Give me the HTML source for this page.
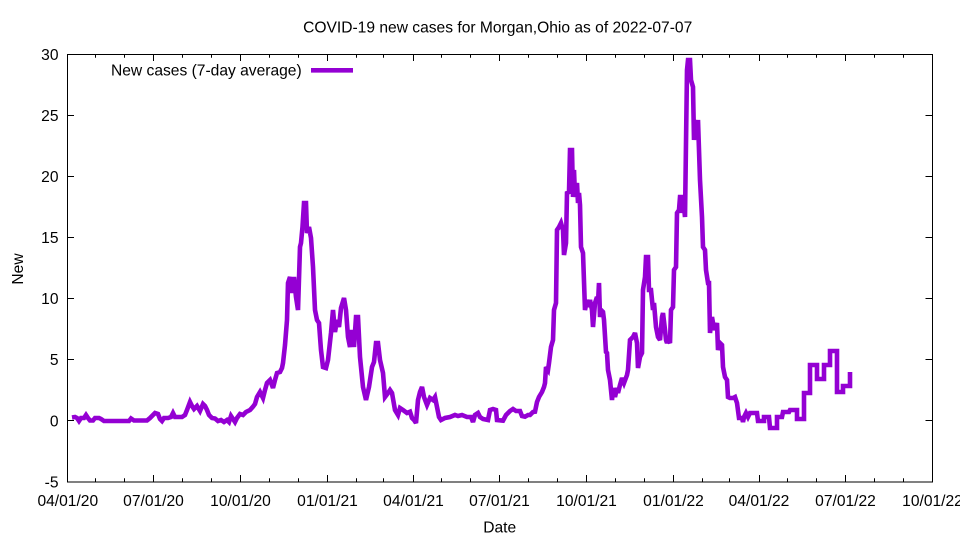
<!DOCTYPE html>
<html>
<head>
<meta charset="utf-8">
<style>
html,body{margin:0;padding:0;background:#fff;}
svg{display:block;}
text{font-family:"Liberation Sans",Arial,sans-serif;fill:#000;}
</style>
</head>
<body>
<svg width="960" height="540" viewBox="0 0 960 540" xmlns="http://www.w3.org/2000/svg">
<rect x="0" y="0" width="960" height="540" fill="#fff"/>

<!-- title -->
<text x="497.7" y="32.7" font-size="15.6" text-anchor="middle">COVID-19 new cases for Morgan,Ohio as of 2022-07-07</text>

<!-- y ticks (left & right) -->
<g stroke="#000" stroke-width="1">
<line x1="67" y1="54.5" x2="74" y2="54.5"/>
<line x1="67" y1="115.5" x2="74" y2="115.5"/>
<line x1="67" y1="176.5" x2="74" y2="176.5"/>
<line x1="67" y1="237.5" x2="74" y2="237.5"/>
<line x1="67" y1="298.5" x2="74" y2="298.5"/>
<line x1="67" y1="359.5" x2="74" y2="359.5"/>
<line x1="67" y1="420.5" x2="74" y2="420.5"/>
<line x1="932.5" y1="54.5" x2="925.5" y2="54.5"/>
<line x1="932.5" y1="115.5" x2="925.5" y2="115.5"/>
<line x1="932.5" y1="176.5" x2="925.5" y2="176.5"/>
<line x1="932.5" y1="237.5" x2="925.5" y2="237.5"/>
<line x1="932.5" y1="298.5" x2="925.5" y2="298.5"/>
<line x1="932.5" y1="359.5" x2="925.5" y2="359.5"/>
<line x1="932.5" y1="420.5" x2="925.5" y2="420.5"/>
</g>

<!-- x ticks: major (bottom & top) -->
<g stroke="#000" stroke-width="1">
<line x1="67.5" y1="482" x2="67.5" y2="475"/>
<line x1="153.5" y1="482" x2="153.5" y2="475"/>
<line x1="240.5" y1="482" x2="240.5" y2="475"/>
<line x1="327.5" y1="482" x2="327.5" y2="475"/>
<line x1="413.5" y1="482" x2="413.5" y2="475"/>
<line x1="499.5" y1="482" x2="499.5" y2="475"/>
<line x1="586.5" y1="482" x2="586.5" y2="475"/>
<line x1="673.5" y1="482" x2="673.5" y2="475"/>
<line x1="759.5" y1="482" x2="759.5" y2="475"/>
<line x1="845.5" y1="482" x2="845.5" y2="475"/>
<line x1="153.5" y1="54" x2="153.5" y2="61"/>
<line x1="240.5" y1="54" x2="240.5" y2="61"/>
<line x1="327.5" y1="54" x2="327.5" y2="61"/>
<line x1="413.5" y1="54" x2="413.5" y2="61"/>
<line x1="499.5" y1="54" x2="499.5" y2="61"/>
<line x1="586.5" y1="54" x2="586.5" y2="61"/>
<line x1="673.5" y1="54" x2="673.5" y2="61"/>
<line x1="759.5" y1="54" x2="759.5" y2="61"/>
<line x1="845.5" y1="54" x2="845.5" y2="61"/>
</g>
<!-- x minor ticks -->
<g stroke="#000" stroke-width="1">
<line x1="95.5" y1="482" x2="95.5" y2="478.3"/><line x1="95.5" y1="54" x2="95.5" y2="57.7"/>
<line x1="124.5" y1="482" x2="124.5" y2="478.3"/><line x1="124.5" y1="54" x2="124.5" y2="57.7"/>
<line x1="182.5" y1="482" x2="182.5" y2="478.3"/><line x1="182.5" y1="54" x2="182.5" y2="57.7"/>
<line x1="211.5" y1="482" x2="211.5" y2="478.3"/><line x1="211.5" y1="54" x2="211.5" y2="57.7"/>
<line x1="269.5" y1="482" x2="269.5" y2="478.3"/><line x1="269.5" y1="54" x2="269.5" y2="57.7"/>
<line x1="298.5" y1="482" x2="298.5" y2="478.3"/><line x1="298.5" y1="54" x2="298.5" y2="57.7"/>
<line x1="356.5" y1="482" x2="356.5" y2="478.3"/><line x1="356.5" y1="54" x2="356.5" y2="57.7"/>
<line x1="383.5" y1="482" x2="383.5" y2="478.3"/><line x1="383.5" y1="54" x2="383.5" y2="57.7"/>
<line x1="441.5" y1="482" x2="441.5" y2="478.3"/><line x1="441.5" y1="54" x2="441.5" y2="57.7"/>
<line x1="470.5" y1="482" x2="470.5" y2="478.3"/><line x1="470.5" y1="54" x2="470.5" y2="57.7"/>
<line x1="528.5" y1="482" x2="528.5" y2="478.3"/><line x1="528.5" y1="54" x2="528.5" y2="57.7"/>
<line x1="557.5" y1="482" x2="557.5" y2="478.3"/><line x1="557.5" y1="54" x2="557.5" y2="57.7"/>
<line x1="615.5" y1="482" x2="615.5" y2="478.3"/><line x1="615.5" y1="54" x2="615.5" y2="57.7"/>
<line x1="644.5" y1="482" x2="644.5" y2="478.3"/><line x1="644.5" y1="54" x2="644.5" y2="57.7"/>
<line x1="702.5" y1="482" x2="702.5" y2="478.3"/><line x1="702.5" y1="54" x2="702.5" y2="57.7"/>
<line x1="729.5" y1="482" x2="729.5" y2="478.3"/><line x1="729.5" y1="54" x2="729.5" y2="57.7"/>
<line x1="787.5" y1="482" x2="787.5" y2="478.3"/><line x1="787.5" y1="54" x2="787.5" y2="57.7"/>
<line x1="816.5" y1="482" x2="816.5" y2="478.3"/><line x1="816.5" y1="54" x2="816.5" y2="57.7"/>
<line x1="874.5" y1="482" x2="874.5" y2="478.3"/><line x1="874.5" y1="54" x2="874.5" y2="57.7"/>
<line x1="903.5" y1="482" x2="903.5" y2="478.3"/><line x1="903.5" y1="54" x2="903.5" y2="57.7"/>
</g>

<!-- frame -->
<rect x="67.5" y="54.5" width="865" height="427.5" fill="none" stroke="#000" stroke-width="1"/>

<!-- y tick labels -->
<g font-size="15.6" text-anchor="end">
<text x="58.5" y="60">30</text>
<text x="58.5" y="121">25</text>
<text x="58.5" y="182">20</text>
<text x="58.5" y="243">15</text>
<text x="58.5" y="304">10</text>
<text x="58.5" y="365">5</text>
<text x="58.5" y="426.5">0</text>
<text x="58.5" y="487.5">-5</text>
</g>

<!-- x tick labels -->
<g font-size="15.6" text-anchor="middle">
<text x="67.8" y="506">04/01/20</text>
<text x="153.5" y="506">07/01/20</text>
<text x="240.5" y="506">10/01/20</text>
<text x="327.5" y="506">01/01/21</text>
<text x="413.5" y="506">04/01/21</text>
<text x="499.5" y="506">07/01/21</text>
<text x="586.5" y="506">10/01/21</text>
<text x="673.5" y="506">01/01/22</text>
<text x="759" y="506">04/01/22</text>
<text x="845.5" y="506">07/01/22</text>
<text x="932.5" y="506">10/01/22</text>
</g>

<!-- axis labels -->
<text x="499.7" y="532.7" font-size="15.6" text-anchor="middle">Date</text>
<text transform="translate(23,269) rotate(-90)" font-size="15.6" text-anchor="middle">New</text>

<!-- legend -->
<text x="301.7" y="75.7" font-size="15.6" text-anchor="end">New cases (7-day average)</text>
<line x1="311" y1="70.3" x2="353" y2="70.3" stroke="#9400D3" stroke-width="4.6"/>

<!-- data -->
<polyline fill="none" stroke="#9400D3" stroke-width="4.6" stroke-linejoin="miter" stroke-miterlimit="3" points="
72,417.5 75,417 77,418 79,421 81,418 84,418 86,415 88,418 90,420.5 93,420.5 95,418 99,418 101,419 104,421 129,421 131,418.5 134,420.5 147,420.5 150,418 153,415 155,413 158,414 160,419 162,421 164,418 168,418 171,417 173,413 175,417 182,417 185,415 187,410 190,402 192,406 194,409 197,406 200,411 203,404 205,406 207,410 209,415 212,418 215,418.5 218,421 221,420 224,422 227,420 229,422 231,416 233,419 235,422 237,418 240,414 243,415 246,412 250,410 253,406.7 255,404 257,397 260,392 263,398 265,390 267,383 270,380 273,388 275,380 277,373 280,372 282,368 283,363 285,345 287,320 288,283 290,277 292,293 294,277 296,297 298,310 300,247 301,243 302.5,227 304,203 306,203 307,233 309,227 311,238 313,267 315,310 317,320 319,323 321,350 323,367 326,368 328,360 331,333 333,310 335,332 337,320 339,327 341,308 344,298 346,310 348,337 350,347 352,330 354,347 356,317 358,317 360,357 363,387 366,400 369,387 372,367 374,362 376,343 378,343 380,360 383,373 385,397 388,393 390,390 392,393 395,410 398,415 400,408 403,410 407,413 410,411.7 412,418 414,420 416,423 418,400 420,392 422,387 424,397 427,405 430,398 433,400 435,397 437,407 439,417 441,420 445,418 450,417 455,415 458,416 462,415 467,417 471,417 473,422 475,415 478,413 480,417 483,419 488,420 490,410 493,409 496,410 497,420 503,420.7 506,415 510,411 513,409 516,411 520,411 522,416 525,416.7 528,415 530,415 533,412 535,411.7 537,402 539,397 542,392 544,387 545,383 546,367 548,370 549,363 551,347 553,340 554,310 556,303 557,230 559,227 561,223 563,230 564,255 566,243 567,193 569,192 570,150 572,150 573,197 574,170 575,197 577,183 578,203 579,193 580,205 581,247 583,253 585,310 587,300 589,307 590,300 592,310 593,327 595,303 597,297 598,303 599,283 600,317 601,310 603,312 604,320 606,352 607,353 608,370 610,380 612,400 613,388 615,397 617,388 618,393 620,385 622,378 624,383 627,375 628,370 630,340 633,337 635,333 637,343 638,368 640,357 642,353 643,290 645,277 646,257 648,257 649,290 651,290 653,310 654,303 656,327 658,337 660,340 662,317 663,313 665,330 666,340 667,343 668,340 670,343 671,310 673,307 674,270 676,267 677,213 679,210 680,197 681,197 682,213 683,197 685,217 686,143 687,70 688,60 690,60 691,80 693,87 694,140 695,120 697,137 698,120 700,180 702,217 703,247 705,250 706,270 708,283 709,283 710,333 712,317 713,323 715,330 717,323 718,350 720,343 722,345 723,367 725,377 727,380 728,397 730,398 733,398 735,397 737,403 739,418 742,418 743,422 744,417 746,413 748,417 750,413 757,413 758,421 764,421 764,417 769,417 770,428 777,428 777,417 782,417 783,412 789,412 790,410 797,410 797,419 804,419 804,393 810,393 810,365 817,365 817,379 824,379 824,365 830,365 830,351 837,351 837,392 843,392 843,386 850,386 850,372"/>
</svg>
</body>
</html>
